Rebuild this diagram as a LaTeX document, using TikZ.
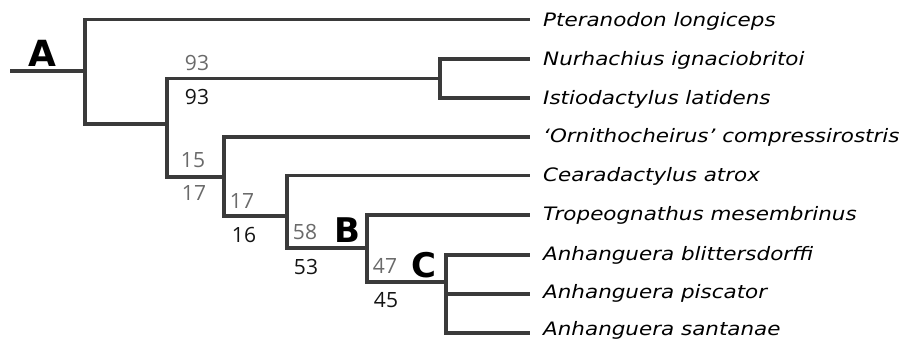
\documentclass[tikz,border=0pt]{standalone}
\usepackage{fontspec}
\newfontfamily\taxfont[FakeStretch=1.16]{DejaVu Sans Oblique}
\newfontfamily\numfont{Open Sans}
\newfontfamily\clfont{DejaVu Sans Bold}
\definecolor{brc}{HTML}{3A3A3A}
\definecolor{gnum}{HTML}{6A6A6A}
\definecolor{bnum}{HTML}{141414}
\tikzset{
  branch/.style={line width=3.3pt, draw=brc},
  taxon/.style={anchor=base west, inner sep=0pt,
    font=\taxfont\fontsize{18.5}{20}\selectfont, text=black},
  upnum/.style={inner sep=0pt, font=\numfont\fontsize{21}{24}\selectfont, text=gnum},
  lownum/.style={inner sep=0pt, font=\numfont\fontsize{21}{24}\selectfont, text=bnum},
  clade/.style={inner sep=0pt, font=\clfont\fontsize{34}{40}\selectfont, text=black}
}
\begin{document}
\begin{tikzpicture}[x=1pt,y=-1pt]
\useasboundingbox[fill=white] (0,0) rectangle (901,341);
% branch tips
\coordinate (e1) at (530,19.5);
\coordinate (e2) at (530,59);
\coordinate (e3) at (530,98);
\coordinate (e4) at (530,137);
\coordinate (e5) at (530,175.5);
\coordinate (e6) at (530,215);
\coordinate (e7) at (530,255);
\coordinate (e8) at (530,294);
\coordinate (e9) at (530,333);
% taxa
\node[taxon] (t1) at (543,26.7)  {Pteranodon longiceps};
\node[taxon] (t2) at (543,65.5)  {Nurhachius ignaciobritoi};
\node[taxon] (t3) at (543,104)   {Istiodactylus latidens};
\node[taxon] (t4) at (543,142.7) {‘Ornithocheirus’ compressirostris};
\node[taxon] (t5) at (543,181.5) {Cearadactylus atrox};
\node[taxon] (t6) at (543,220)   {Tropeognathus mesembrinus};
\node[taxon] (t7) at (543,260)   {Anhanguera blittersdorffi};
\node[taxon] (t8) at (543,298.3) {Anhanguera piscator};
\node[taxon] (t9) at (543,335.5) {Anhanguera santanae};
% internal nodes
\coordinate (r0) at (10,71);
\coordinate (n1) at (85,71);
\coordinate (n2) at (167,124);
\coordinate (n3) at (440,78.5);
\coordinate (n4) at (224,177);
\coordinate (n5) at (287,216);
\coordinate (n6) at (367,248);
\coordinate (n7) at (446,282);
% branches
\draw[branch] (r0) -- (n1);
\draw[branch] (n1) |- (e1);
\draw[branch] (n1) |- (n2);
\draw[branch] (n2) |- (n3);
\draw[branch] (n3) |- (e2);
\draw[branch] (n3) |- (e3);
\draw[branch] (n2) |- (n4);
\draw[branch] (n4) |- (e4);
\draw[branch] (n4) |- (n5);
\draw[branch] (n5) |- (e5);
\draw[branch] (n5) |- (n6);
\draw[branch] (n6) |- (e6);
\draw[branch] (n6) |- (n7);
\draw[branch] (n7) |- (e7);
\draw[branch] (n7) |- (e8);
\draw[branch] (n7) |- (e9);
% support values
\node[upnum]  (s1a) at (197,63)  {93};
\node[lownum] (s1b) at (197,97)  {93};
\node[upnum]  (s2a) at (193,160) {15};
\node[upnum]  (s2b) at (194,193) {17};
\node[upnum]  (s3a) at (242,201) {17};
\node[lownum] (s3b) at (244,235) {16};
\node[upnum]  (s4a) at (305,232) {58};
\node[lownum] (s4b) at (306,267) {53};
\node[upnum]  (s5a) at (385,266) {47};
\node[lownum] (s5b) at (386,300) {45};
% clade letters
\node[clade, font=\clfont\fontsize{36}{40}\selectfont] (cA) at (42,53) {A};
\node[clade] (cB) at (347,230) {B};
\node[clade] (cC) at (424,265) {C};
\end{tikzpicture}
\end{document}
